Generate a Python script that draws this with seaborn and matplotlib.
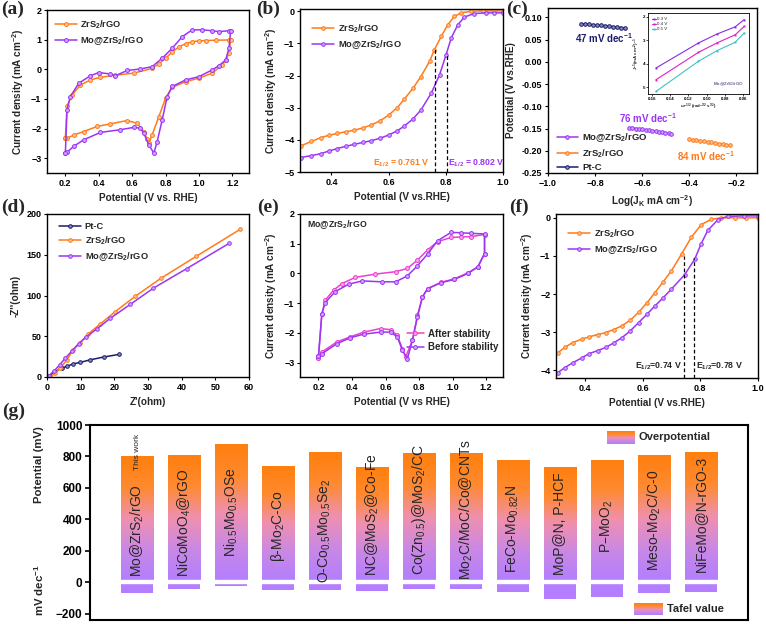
import numpy as np
import pandas as pd
import matplotlib
matplotlib.use("Agg")
import matplotlib.pyplot as plt
import seaborn as sns
from matplotlib.colors import LinearSegmentedColormap

# ---------------- data ----------------
# (a) CV: ZrS2/rGO vs Mo@ZrS2/rGO (closed loops)
cv_zr_E = [0.20, 0.21, 0.24, 0.29, 0.35, 0.41, 0.50, 0.61, 0.72, 0.76, 0.80, 0.84, 0.88, 0.92, 0.96, 1.00, 1.04, 1.10, 1.18, 1.19,
           1.18, 1.16, 1.14, 1.08, 1.00, 0.92, 0.84, 0.80, 0.76, 0.72, 0.70, 0.69, 0.67, 0.63, 0.57, 0.47, 0.39, 0.31, 0.25, 0.21, 0.20]
cv_zr_J = [-2.33, -1.24, -0.87, -0.53, -0.36, -0.27, -0.20, -0.13, 0.03, 0.18, 0.37, 0.58, 0.76, 0.86, 0.93, 0.96, 0.97, 0.98, 0.99, 0.99,
           0.54, 0.30, 0.15, -0.13, -0.30, -0.42, -0.61, -0.98, -1.60, -2.21, -2.50, -2.36, -2.10, -1.82, -1.73, -1.84, -1.93, -2.10, -2.22, -2.33, -2.33]
cv_mo_E = [0.20, 0.21, 0.23, 0.28, 0.35, 0.40, 0.47, 0.50, 0.57, 0.65, 0.72, 0.78, 0.84, 0.90, 0.96, 1.02, 1.08, 1.12, 1.18, 1.19,
           1.18, 1.16, 1.12, 1.08, 1.00, 0.92, 0.84, 0.81, 0.78, 0.75, 0.73, 0.70, 0.67, 0.65, 0.61, 0.53, 0.41, 0.31, 0.25, 0.21, 0.20]
cv_mo_J = [-2.83, -1.37, -0.92, -0.47, -0.22, -0.11, -0.16, -0.22, -0.04, 0.01, 0.09, 0.37, 0.71, 1.10, 1.33, 1.33, 1.30, 1.27, 1.30, 1.30,
           0.71, 0.31, 0.12, -0.02, -0.25, -0.36, -0.58, -0.92, -1.71, -2.44, -2.83, -2.55, -2.16, -1.99, -1.96, -2.04, -2.13, -2.38, -2.60, -2.80, -2.83]

# (b) LSV
lsv_b_E_zr = [0.292, 0.33, 0.363, 0.39, 0.421, 0.45, 0.48, 0.51, 0.538, 0.57, 0.60, 0.63, 0.655, 0.685, 0.713, 0.743, 0.760, 0.784, 0.807, 0.83, 0.854, 0.889, 0.93, 0.97, 1.00]
lsv_b_J_zr = [-4.19, -4.05, -3.93, -3.86, -3.80, -3.75, -3.70, -3.63, -3.54, -3.41, -3.23, -3.00, -2.73, -2.40, -2.03, -1.56, -1.20, -0.78, -0.42, -0.16, -0.05, 0.00, 0.01, 0.01, 0.01]
lsv_b_E_mo = [0.292, 0.33, 0.363, 0.39, 0.421, 0.45, 0.48, 0.51, 0.538, 0.57, 0.60, 0.63, 0.655, 0.685, 0.713, 0.749, 0.778, 0.801, 0.819, 0.842, 0.865, 0.90, 0.94, 0.97, 1.00]
lsv_b_J_mo = [-4.55, -4.49, -4.43, -4.35, -4.27, -4.20, -4.14, -4.08, -4.03, -3.95, -3.85, -3.72, -3.57, -3.35, -3.07, -2.55, -1.98, -1.35, -0.83, -0.42, -0.18, -0.07, -0.05, -0.05, -0.05]

# (c) Tafel
taf_pt_x = [-0.858, -0.842, -0.826, -0.809, -0.792, -0.775, -0.758, -0.741, -0.724, -0.707, -0.690, -0.674]
taf_pt_y = [0.085, 0.085, 0.084, 0.083, 0.082, 0.082, 0.081, 0.080, 0.079, 0.078, 0.077, 0.076]
taf_mo_x = [-0.655, -0.641, -0.627, -0.613, -0.599, -0.585, -0.571, -0.557, -0.543, -0.529, -0.515, -0.501, -0.488, -0.476]
taf_mo_y = [-0.148, -0.149, -0.150, -0.151, -0.152, -0.153, -0.154, -0.155, -0.156, -0.157, -0.158, -0.160, -0.161, -0.162]
taf_zr_x = [-0.402, -0.386, -0.370, -0.354, -0.338, -0.322, -0.306, -0.290, -0.274, -0.258, -0.242, -0.226]
taf_zr_y = [-0.174, -0.175, -0.176, -0.178, -0.179, -0.180, -0.181, -0.183, -0.184, -0.185, -0.187, -0.188]
tafel_labels = ["47 mV dec$^{-1}$", "76 mV dec$^{-1}$", "84 mV dec$^{-1}$"]

# (c) inset K-L
kl_x = [0.1553, 0.109, 0.089, 0.069, 0.0592]
kl_03 = [4.18, 3.11, 2.73, 2.42, 2.11]
kl_04 = [4.68, 3.51, 3.11, 2.76, 2.40]
kl_05 = [5.18, 3.89, 3.44, 3.08, 2.68]

# (d) Nyquist
ny_pt_x = [0.5, 2.0, 4.4, 5.9, 7.7, 9.9, 12.8, 16.8, 21.5]
ny_pt_y = [1, 6, 11, 13, 16, 18, 21, 24.5, 27.8]
ny_zr_x = [1.0, 2.5, 4.0, 5.9, 7.7, 9.9, 12.3, 15.8, 20.2, 26.2, 33.8, 44.3, 57.3]
ny_zr_y = [0, 5, 11, 21, 33, 42, 53, 65, 80, 99, 121, 148, 181]
ny_mo_x = [0.5, 2.0, 3.8, 5.4, 7.4, 9.4, 11.6, 14.8, 18.8, 24.7, 31.6, 41.5, 54.1]
ny_mo_y = [1, 7, 15, 23, 32, 41, 49, 59, 72, 89, 109, 133, 164]

# (e) CV stability
cv_bef_E = [0.20, 0.22, 0.24, 0.30, 0.38, 0.46, 0.58, 0.66, 0.73, 0.79, 0.85, 0.91, 0.99, 1.05, 1.11, 1.19,
            1.19, 1.15, 1.09, 1.01, 0.93, 0.85, 0.82, 0.79, 0.76, 0.73, 0.70, 0.67, 0.63, 0.57, 0.47, 0.39, 0.31, 0.22, 0.20]
cv_bef_J = [-2.78, -1.37, -0.98, -0.61, -0.36, -0.25, -0.28, -0.28, -0.08, 0.26, 0.65, 1.10, 1.38, 1.37, 1.35, 1.33,
            0.67, 0.22, 0.00, -0.20, -0.31, -0.51, -0.79, -1.46, -2.25, -2.87, -2.58, -2.13, -1.97, -1.97, -2.04, -2.16, -2.36, -2.70, -2.78]
cv_aft_E = [0.20, 0.22, 0.24, 0.29, 0.34, 0.42, 0.54, 0.66, 0.73, 0.79, 0.85, 0.91, 0.99, 1.05, 1.11, 1.19,
            1.19, 1.15, 1.09, 1.01, 0.93, 0.85, 0.82, 0.79, 0.76, 0.72, 0.70, 0.67, 0.63, 0.57, 0.47, 0.39, 0.31, 0.22, 0.20]
cv_aft_J = [-2.83, -1.37, -0.90, -0.56, -0.34, -0.13, -0.02, 0.06, 0.17, 0.45, 0.79, 1.07, 1.21, 1.23, 1.24, 1.31,
            0.67, 0.22, 0.02, -0.18, -0.30, -0.51, -0.79, -1.40, -2.25, -2.80, -2.53, -2.08, -1.89, -1.85, -1.97, -2.13, -2.30, -2.64, -2.83]

# (f) LSV
lsv_f_E_zr = [0.306, 0.33, 0.358, 0.39, 0.415, 0.445, 0.472, 0.50, 0.529, 0.558, 0.586, 0.615, 0.643, 0.672, 0.70, 0.735, 0.769, 0.803, 0.838, 0.872, 0.92, 0.96, 1.00]
lsv_f_J_zr = [-3.54, -3.40, -3.27, -3.18, -3.12, -3.06, -3.01, -2.93, -2.83, -2.68, -2.48, -2.23, -1.96, -1.67, -1.39, -0.95, -0.51, -0.18, -0.04, 0.00, 0.00, 0.00, 0.00]
lsv_f_E_mo = [0.306, 0.33, 0.358, 0.39, 0.415, 0.445, 0.472, 0.50, 0.529, 0.558, 0.586, 0.615, 0.643, 0.672, 0.70, 0.746, 0.781, 0.803, 0.826, 0.861, 0.895, 0.95, 1.00]
lsv_f_J_mo = [-4.06, -3.93, -3.80, -3.67, -3.56, -3.48, -3.40, -3.28, -3.14, -2.96, -2.75, -2.53, -2.31, -2.09, -1.87, -1.49, -1.08, -0.68, -0.33, -0.05, 0.04, 0.05, 0.05]

# (g) comparison
catalysts = ["Mo@ZrS$_2$/rGO", "NiCoMoO$_4$@rGO", "Ni$_{0.5}$Mo$_{0.5}$OSe", "β-Mo$_2$C-Co",
             "O-Co$_{0.5}$Mo$_{0.5}$Se$_2$", "NC@MoS$_2$@Co-Fe", "Co(Zn$_{0.5}$)@MoS$_2$/CC",
             "Mo$_2$C/MoC/Co@CNTs", "FeCo-Mo$_{0.82}$N", "MoP@N, P-HCF", "P–MoO$_2$",
             "Meso-Mo$_2$C/C-0", "NiFeMo@N-rGO-3"]
overpotential = [800, 811, 879, 739, 828, 731, 820, 820, 778, 731, 778, 811, 828]
tafel = [70, 44, 21, 49, 49, 55, 44, 44, 59, 106, 95, 66, 59]

# ---------------- style ----------------
sns.set_style("ticks")
plt.rcParams["font.family"] = ["Liberation Sans", "DejaVu Sans"]
plt.rcParams["font.weight"] = "bold"
plt.rcParams["axes.labelweight"] = "bold"
plt.rcParams["mathtext.default"] = "regular"
plt.rcParams["axes.edgecolor"] = "black"
plt.rcParams["xtick.color"] = "black"
plt.rcParams["ytick.color"] = "black"

ORANGE = "#ff7a1a"
PURPLE = "#9a35f5"
NAVY = "#1c1c6e"
PINK = "#ef3fcf"
ORANGE_F = "#ffc08a"
PURPLE_F = "#d3a2ff"

fig = plt.figure(figsize=(7.66, 6.24), dpi=100)
W, H = 766.0, 624.0


def rect(l, t, r, b):
    return [l / W, 1 - b / H, (r - l) / W, (b - t) / H]


def style(ax, fs=6.5):
    ax.tick_params(direction="out", length=2.5, width=0.8, labelsize=fs, pad=1.5)
    for s in ax.spines.values():
        s.set_linewidth(1.0)
        s.set_visible(True)
    ax.xaxis.label.set_size(7.2)
    ax.yaxis.label.set_size(7.2)


def curve(ax, x, y, color, mfc, label, ms=2.8, lw=1.1):
    sns.lineplot(x=x, y=y, ax=ax, sort=False, estimator=None, color=color, lw=lw,
                 marker="o", markersize=ms, markerfacecolor=mfc, markeredgecolor=color,
                 markeredgewidth=0.7, label=label)


leg_kw = dict(frameon=False, handlelength=2.3, handletextpad=0.4, labelspacing=0.35,
              prop={"weight": "bold", "size": 6.7})

# ---- (a)
ax = fig.add_axes(rect(47, 10, 249, 173))
curve(ax, cv_zr_E, cv_zr_J, ORANGE, ORANGE_F, "ZrS$_2$/rGO")
curve(ax, cv_mo_E, cv_mo_J, PURPLE, PURPLE_F, "Mo@ZrS$_2$/rGO")
ax.set_xlim(0.09, 1.3)
ax.set_ylim(-3.5, 2)
ax.set_xticks([0.2, 0.4, 0.6, 0.8, 1.0, 1.2])
ax.set_yticks([-3, -2, -1, 0, 1, 2])
ax.set_xlabel("Potential (V vs. RHE)")
ax.set_ylabel("Current density (mA cm$^{-2}$)")
ax.legend(loc="upper left", bbox_to_anchor=(0.0, 1.0), **leg_kw)
style(ax)

# ---- (b)
ax = fig.add_axes(rect(300, 9, 503, 172))
curve(ax, lsv_b_E_zr, lsv_b_J_zr, ORANGE, ORANGE_F, "ZrS$_2$/rGO", ms=2.6)
curve(ax, lsv_b_E_mo, lsv_b_J_mo, PURPLE, PURPLE_F, "Mo@ZrS$_2$/rGO", ms=2.6)
ax.axvline(0.761, ymin=0, ymax=(5 - 1.15) / 5.07, color="black", ls=(0, (3, 2)), lw=0.9)
ax.axvline(0.803, ymin=0, ymax=(5 - 1.3) / 5.07, color="black", ls=(0, (3, 2)), lw=0.9)
ax.text(0.745, -4.72, "E$_{1/2}$ = 0.761 V", color=ORANGE, fontsize=6.3, ha="right", va="center")
ax.text(0.808, -4.72, "E$_{1/2}$ = 0.802 V", color=PURPLE, fontsize=6.3, ha="left", va="center")
ax.set_xlim(0.29, 1.0)
ax.set_ylim(-5, 0.07)
ax.set_xticks([0.4, 0.6, 0.8, 1.0])
ax.set_yticks([-5, -4, -3, -2, -1, 0])
ax.set_xlabel("Potential (V vs.RHE)")
ax.set_ylabel("Current density (mA cm$^{-2}$)")
ax.legend(loc="upper left", bbox_to_anchor=(0.02, 0.97), **leg_kw)
style(ax)

# ---- (c)
ax = fig.add_axes(rect(548, 8, 757, 173))
curve(ax, taf_mo_x, taf_mo_y, PURPLE, PURPLE_F, "Mo@ZrS$_2$/rGO", ms=2.6)
curve(ax, taf_zr_x, taf_zr_y, ORANGE, ORANGE_F, "ZrS$_2$/rGO", ms=2.6)
curve(ax, taf_pt_x, taf_pt_y, NAVY, "#8a8ac0", "Pt-C", ms=2.6)
ax.text(-0.76, 0.054, tafel_labels[0], color=NAVY, fontsize=7, ha="center", va="center")
ax.text(-0.575, -0.127, tafel_labels[1], color=PURPLE, fontsize=7, ha="center", va="center")
ax.text(-0.33, -0.211, tafel_labels[2], color=ORANGE, fontsize=7, ha="center", va="center")
ax.set_xlim(-1.0, -0.112)
ax.set_ylim(-0.25, 0.121)
ax.set_xticks([-1.0, -0.8, -0.6, -0.4, -0.2])
ax.set_yticks([-0.25, -0.20, -0.15, -0.10, -0.05, 0.0, 0.05, 0.10])
ax.yaxis.set_major_formatter(matplotlib.ticker.FormatStrFormatter("%.2f"))
ax.set_xlabel("Log(J$_K$ mA cm$^{-2}$)")
ax.set_ylabel("Potential (V vs.RHE)")
ax.legend(loc="lower left", bbox_to_anchor=(0.0, -0.045), **{**leg_kw, "prop": {"weight": "bold", "size": 6.8}})
style(ax)

# inset
axi = fig.add_axes(rect(648, 13, 749, 94))
for yv, col, lab in [(kl_03, "#8a2be2", "0.3 V"), (kl_04, "#e020c8", "0.4 V"), (kl_05, "#3cc4c4", "0.5 V")]:
    sns.lineplot(x=kl_x, y=yv, ax=axi, sort=False, estimator=None, color=col, lw=0.8,
                 marker="s", markersize=1.4, markeredgewidth=0, label=lab)
axi.set_xlim(0.164, 0.054)
axi.set_ylim(5.29, 1.83)
axi.set_xticks([0.16, 0.14, 0.12, 0.10, 0.08, 0.06])
axi.set_yticks([2, 3, 4, 5])
axi.tick_params(labelsize=3.2, length=1.2, width=0.5, pad=0.8, direction="out")
for s in axi.spines.values():
    s.set_linewidth(0.6)
axi.set_xlabel("ω$^{-1/2}$ (rad$^{-1/2}$ s$^{1/2}$)", fontsize=3.2, labelpad=0.8)
axi.set_ylabel("J$^{-1}$(mA cm$^{-2}$)$^{-1}$", fontsize=3.2, labelpad=0.8)
axi.legend(loc="upper left", frameon=False, handlelength=0.8, handletextpad=0.3, labelspacing=0.2,
           prop={"size": 3.2, "weight": "normal"})
axi.text(0.95, 0.07, "Mo@ZrS$_2$/rGO", transform=axi.transAxes, fontsize=3.2, color=NAVY,
         ha="right", va="bottom", fontweight="normal")

# ---- (d)
ax = fig.add_axes(rect(47, 214, 249, 377))
curve(ax, ny_pt_x, ny_pt_y, NAVY, "#8a8ac0", "Pt-C", ms=2.6)
curve(ax, ny_zr_x, ny_zr_y, ORANGE, ORANGE_F, "ZrS$_2$/rGO", ms=2.6)
curve(ax, ny_mo_x, ny_mo_y, PURPLE, PURPLE_F, "Mo@ZrS$_2$/rGO", ms=2.6)
ax.set_xlim(0, 60)
ax.set_ylim(0, 200)
ax.set_xticks([0, 10, 20, 30, 40, 50, 60])
ax.set_yticks([0, 50, 100, 150, 200])
ax.set_xlabel("Z'(ohm)")
ax.set_ylabel("-Z''(ohm)")
ax.legend(loc="upper left", bbox_to_anchor=(0.02, 1.0), **leg_kw)
style(ax)

# ---- (e)
ax = fig.add_axes(rect(300, 214, 503, 377))
curve(ax, cv_aft_E, cv_aft_J, PINK, "#f7a8e8", "After stability")
curve(ax, cv_bef_E, cv_bef_J, PURPLE, PURPLE_F, "Before stability")
ax.text(0.13, 1.66, "Mo@ZrS$_2$/rGO", fontsize=6.3, ha="left", va="center")
ax.set_xlim(0.09, 1.3)
ax.set_ylim(-3.48, 2)
ax.set_xticks([0.2, 0.4, 0.6, 0.8, 1.0, 1.2])
ax.set_yticks([-3, -2, -1, 0, 1, 2])
ax.set_xlabel("Potential (V vs RHE)")
ax.set_ylabel("Current density (mA cm$^{-2}$)")
ax.legend(loc="lower right", bbox_to_anchor=(1.02, 0.10),
          **{**leg_kw, "handlelength": 1.8, "prop": {"weight": "bold", "size": 7.0}})
style(ax)

# ---- (f)
ax = fig.add_axes(rect(556, 214, 758, 378))
curve(ax, lsv_f_E_zr, lsv_f_J_zr, ORANGE, ORANGE_F, "ZrS$_2$/rGO", ms=2.6)
curve(ax, lsv_f_E_mo, lsv_f_J_mo, PURPLE, PURPLE_F, "Mo@ZrS$_2$/rGO", ms=2.6)
ax.axvline(0.745, ymin=0, ymax=(4.2 - 1.0) / 4.3, color="black", ls=(0, (3, 2)), lw=0.9)
ax.axvline(0.779, ymin=0, ymax=(4.2 - 1.05) / 4.3, color="black", ls=(0, (3, 2)), lw=0.9)
ax.text(0.737, -3.9, "E$_{1/2}$=0.74 V", fontsize=6.3, ha="right", va="center")
ax.text(0.786, -3.9, "E$_{1/2}$=0.78 V", fontsize=6.3, ha="left", va="center")
ax.set_xlim(0.3, 1.0)
ax.set_ylim(-4.2, 0.1)
ax.set_xticks([0.4, 0.6, 0.8, 1.0])
ax.set_yticks([-4, -3, -2, -1, 0])
ax.set_xlabel("Potential (V vs.RHE)")
ax.set_ylabel("Current density (mA cm$^{-2}$)")
ax.legend(loc="upper left", bbox_to_anchor=(0.02, 0.97), **leg_kw)
style(ax)

# ---- (g)
ax = fig.add_axes(rect(90, 425, 748, 620))
df = pd.DataFrame({"cat": catalysts, "eta": overpotential, "tafel": [-t for t in tafel]})
sns.barplot(data=df, x="cat", y="eta", ax=ax, color="#c98ad8", width=0.7, saturation=1)
sns.barplot(data=df, x="cat", y="tafel", ax=ax, color="#b57dff", width=0.7, saturation=1)
cmap = LinearSegmentedColormap.from_list("g", ["#b27eff", "#c988e6", "#ef90b0", "#ff8a30", "#ff7f0e"])
grad = np.linspace(0, 1, 256).reshape(-1, 1)
n = len(catalysts)
for p in ax.patches[:n]:
    x0, y0, w, h = p.get_x(), p.get_y(), p.get_width(), p.get_height()
    im = ax.imshow(grad, extent=[x0, x0 + w, y0, y0 + h], origin="lower", cmap=cmap,
                   aspect="auto", zorder=1.2)
    im.set_clip_path(p)
for p in ax.patches[n:2 * n]:
    p.set_edgecolor("none")
ax.axhspan(-4, 13, color="white", zorder=1.5)
ax.set_aspect("auto")
ax.set_xlim(-1.0, 13.0)
ax.set_ylim(-240, 1000)
ax.set_xticks([])
ax.set_xlabel("")
ax.set_ylabel("")
ax.set_yticks([-200, 0, 200, 400, 600, 800, 1000])
ax.tick_params(axis="y", labelsize=8.5, length=3.5, width=1.2, direction="out", pad=2)
for s in ax.spines.values():
    s.set_linewidth(1.5)
    s.set_visible(True)
label_y = [330, 375, 447, 356, 330, 428, 460, 460, 339, 373, 354, 392, 434]
for i, (lab, ly) in enumerate(zip(catalysts, label_y)):
    ax.text(i, ly, lab, rotation=90, ha="center", va="center", fontsize=10, fontweight="normal", zorder=3)
ax.text(0.02, 826, "This work", rotation=90, ha="center", va="center", fontsize=6, fontweight="normal", zorder=3)
ax.text(-0.078, 0.795, "Potential (mV)", transform=ax.transAxes, rotation=90, ha="center", va="center", fontsize=8.2)
ax.text(-0.078, 0.154, "mV dec$^{-1}$", transform=ax.transAxes, rotation=90, ha="center", va="center", fontsize=8.2)
# legend patches
lp1 = ax.inset_axes([0.786, 0.903, 0.042, 0.066])
lp1.imshow(grad, origin="lower", cmap=cmap, aspect="auto")
lp1.axis("off")
ax.text(0.834, 0.936, "Overpotential", transform=ax.transAxes, ha="left", va="center", fontsize=8)
lp2 = ax.inset_axes([0.827, 0.026, 0.044, 0.061])
lp2.imshow(grad, origin="lower", cmap=cmap, aspect="auto")
lp2.axis("off")
ax.text(0.877, 0.056, "Tafel value", transform=ax.transAxes, ha="left", va="center", fontsize=8)

# panel letters
for lab, (px, py) in {"(a)": (1, 1), "(b)": (256, 1), "(c)": (506, 1), "(d)": (1, 199),
                      "(e)": (257, 199), "(f)": (509, 199), "(g)": (2, 403)}.items():
    fig.text(px / W, 1 - py / H, lab, fontsize=14, fontweight="bold",
             family=["Liberation Serif", "DejaVu Serif"], ha="left", va="top")

fig.savefig("out.png", dpi=100)
